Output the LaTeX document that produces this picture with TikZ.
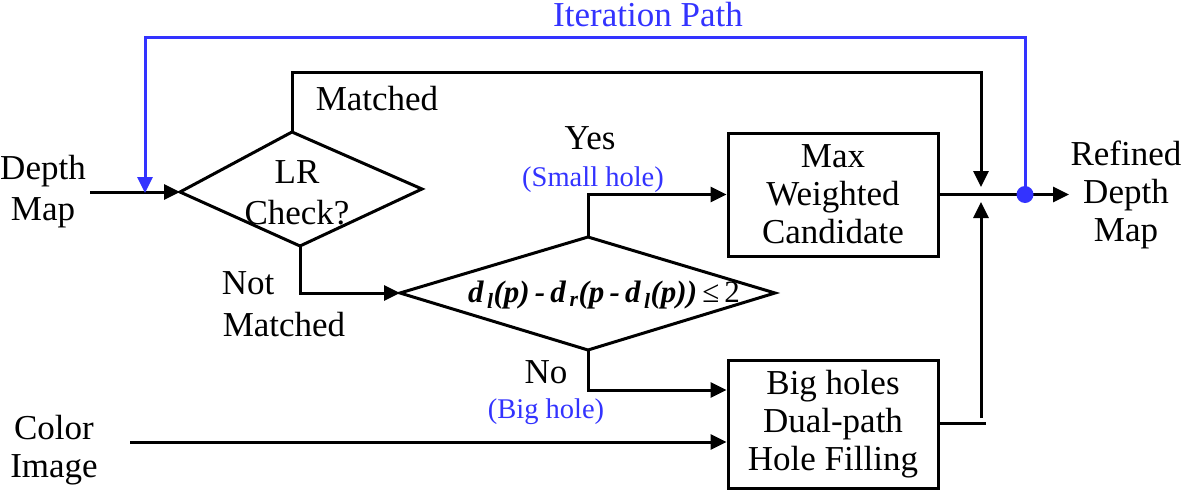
\documentclass[tikz,border=0pt]{standalone}
\usepackage{fontspec}
\setmainfont{Liberation Serif}
\usetikzlibrary{arrows.meta}
\definecolor{pathblue}{RGB}{51,51,255}
\tikzset{
  conn/.style={line width=3pt, -{Triangle[length=16pt,width=15pt]}},
  plain/.style={line width=3pt},
  bluec/.style={line width=3pt, draw=pathblue},
  lbl/.style={font=\fontsize{35}{38}\selectfont, align=center, inner sep=0pt},
  blbl/.style={font=\fontsize{28.5}{32}\selectfont, text=pathblue, inner sep=0pt},
  boxn/.style={draw, line width=3pt, minimum width=210pt, align=center, font=\fontsize{35}{38}\selectfont, inner sep=0pt},
}
\begin{document}
\begin{tikzpicture}[x=1pt,y=-1pt]
\useasboundingbox (0,0) rectangle (1181,490);
% diamond 1
\coordinate (d1w) at (180,192);
\coordinate (d1n) at (292,132);
\coordinate (d1e) at (422,189);
\coordinate (d1s) at (300,246);
\draw[plain, line join=miter] (d1w) -- (d1n) -- (d1e) -- (d1s) -- cycle;
\node[lbl] (lr) at (297,172) {LR};
\node[lbl] (chk) at (297,213) {Check?};
% diamond 2
\coordinate (d2w) at (400,293);
\coordinate (d2n) at (588,237);
\coordinate (d2e) at (775,293);
\coordinate (d2s) at (588,350);
\draw[plain, line join=miter] (d2w) -- (d2n) -- (d2e) -- (d2s) -- cycle;
\node[inner sep=0pt, font=\fontsize{31}{36}\selectfont] (formula) at (604,295)
  {{\bfseries\itshape d\textsubscript{\,l}(p)\,-\,d\textsubscript{\,r}(p\,-\,d\textsubscript{\,l}(p))}\,≤\,2};
% boxes
\node[boxn, minimum height=123pt] (b1) at (833,194.5) {Max\\Weighted\\Candidate};
\node[boxn, minimum height=128pt] (b2) at (833,424) {Big holes\\Dual-path\\Hole Filling};
% outside labels
\node[lbl, font=\fontsize{35}{41}\selectfont] (dm) at (43,192) {Depth\\Map};
\node[lbl] (ci) at (54,450) {Color\\Image};
\node[lbl] (rdm) at (1126,195) {Refined\\Depth\\Map};
\node[lbl, text=pathblue] (it) at (648,15) {Iteration Path};
\node[lbl] (matched) at (377,99) {Matched};
\node[lbl, font=\fontsize{35}{42}\selectfont] (nm) at (284,304) {\hspace*{-72pt}Not\\Matched};
\node[lbl] (yes) at (590,138) {Yes};
\node[blbl] (sh) at (593,180) {(Small hole)};
\node[lbl] (no) at (546,372) {No};
\node[blbl] (bh) at (546,412) {(Big hole)};
% coordinates
\coordinate (dmst) at (90,192);
\coordinate (cist) at (130,442);
\coordinate (dot) at (1025,194.5);
\coordinate (outend) at (1069,194.5);
% connectors
\draw[conn] (dmst) -- (d1w);
\draw[conn] (d1n) -- (292,72) -- (981,72) -- (981,187);
\draw[conn] (d1s) -- (300,293) -- (d2w);
\draw[conn] (d2n) -- (588,194.5) -- (b1.west);
\draw[conn] (d2s) -- (588,390) -- (b2.west |- 0,390);
\draw[conn] (cist) -- (b2.west |- 0,442);
\draw[conn] (b1.east) -- (outend);
\draw[plain] (b2.east |- 0,423) -- (986,423);
\draw[conn] (981,418) -- (981,202);
% iteration path
\draw[bluec, -{Triangle[length=16pt,width=15pt]}] (dot) -- (1025,37) -- (145,37) -- (145,193);
\fill[pathblue] (dot) circle (8.5pt);
\end{tikzpicture}
\end{document}
